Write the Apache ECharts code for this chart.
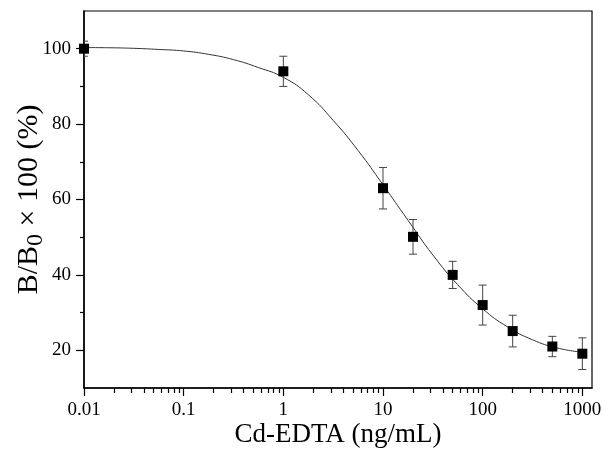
<!DOCTYPE html>
<html>
<head>
<meta charset="utf-8">
<script src="https://cdn.jsdelivr.net/npm/echarts@6/dist/echarts.min.js"></script>
<style>
  html, body { margin: 0; padding: 0; background: #fff; }
  #chart { width: 604px; height: 452px; }
</style>
</head>
<body>
<div id="chart"></div>
<script>
// measured points: concentration (ng/mL), B/B0 x 100 (%), error (+/-)
const concentration = [0.01, 1, 10, 20, 50, 100, 200, 500, 1000];
const ratio = [100, 94, 63, 50.1, 40, 32, 25.1, 21, 19.1];
const errors = [2, 4, 5.5, 4.6, 3.6, 5.3, 4.2, 2.7, 4.2];

// fitted curve, every quarter decade
const fitX = [0.01, 0.0178, 0.0316, 0.0562, 0.1, 0.178, 0.316, 0.562, 1, 1.78, 3.16, 5.62, 10, 17.8, 31.6, 56.2, 100, 178, 316, 562, 1000];
const fitY = [100.3, 100.25, 100.1, 99.8, 99.4, 98.5, 97.1, 95.0, 92.4, 87.8, 81.0, 73.0, 63.9, 54.5, 45.3, 37.4, 31.0, 26.2, 22.8, 20.6, 19.5];

// tick labels
const xTicks = [0.01, 0.1, 1, 10, 100, 1000];
const xTickLabels = ['0.01', '0.1', '1', '10', '100', '1000'];
const yTicks = [20, 40, 60, 80, 100];
const yMinorTicks = [30, 50, 70, 90];

// minor ticks of the log axis (2..9 in each decade)
const xMinorTicks = [];
for (let d = 0.01; d < 1000; d *= 10) {
  for (let k = 2; k <= 9; k++) xMinorTicks.push(+(d * k).toPrecision(3));
}

const font = '"Liberation Serif", "DejaVu Serif", serif';
const axisColor = '#000';

let myChart = echarts.init(document.getElementById('chart'));

const option = {
  animation: false,
  grid: {
    left: 84, top: 11, right: 12, bottom: 64,
    outerBoundsMode: 'none', containLabel: false,
    show: true, borderColor: axisColor, borderWidth: 1.2,
  },
  xAxis: [
    {
      type: 'log', logBase: 10, min: 0.01, max: 1250,
      name: 'Cd-EDTA (ng/mL)', nameLocation: 'middle', nameGap: 33,
      nameMoveOverlap: false,
      nameTextStyle: { fontFamily: font, fontSize: 27, color: '#000' },
      axisLine: { lineStyle: { color: axisColor, width: 1.5 } },
      axisTick: { customValues: xTicks, length: 8, lineStyle: { color: axisColor, width: 1.2 } },
      axisLabel: {
        customValues: xTicks, margin: 13, fontFamily: font, fontSize: 19, color: '#000',
        formatter: (v) => xTickLabels[xTicks.indexOf(v)] ?? String(v),
      },
      splitLine: { show: false },
      minorTick: { show: false },
    },
    {
      type: 'log', logBase: 10, min: 0.01, max: 1250, position: 'bottom',
      axisLine: { show: false },
      axisTick: { customValues: xMinorTicks, length: 5, lineStyle: { color: axisColor, width: 1.2 } },
      axisLabel: { show: false },
      splitLine: { show: false },
    },
  ],
  yAxis: [
    {
      type: 'value', min: 10, max: 110,
      name: '{a|B/B}{s|0}{a| × 100 (%)}', nameLocation: 'middle', nameGap: 36,
      nameMoveOverlap: false,
      nameTextStyle: {
        fontFamily: font, fontSize: 30, color: '#000',
        rich: {
          a: { fontFamily: font, fontSize: 30, color: '#000' },
          s: { fontFamily: font, fontSize: 24, color: '#000', padding: [14, 0, 0, 0] },
        },
      },
      axisLine: { show: true, lineStyle: { color: axisColor, width: 1.5 } },
      axisTick: { show: true, customValues: yTicks, length: 8, lineStyle: { color: axisColor, width: 1.2 } },
      axisLabel: { customValues: yTicks, margin: 13, fontFamily: font, fontSize: 19, color: '#000' },
      splitLine: { show: false },
    },
    {
      type: 'value', min: 10, max: 110, position: 'left',
      axisLine: { show: false },
      axisTick: { show: true, customValues: yMinorTicks, length: 4, lineStyle: { color: axisColor, width: 1.2 } },
      axisLabel: { show: false },
      splitLine: { show: false },
    },
  ],
  series: [
    {
      name: 'fit',
      type: 'line',
      data: fitX.map((x, i) => [x, fitY[i]]),
      smooth: 0.5,
      showSymbol: false,
      lineStyle: { color: '#333', width: 1 },
      z: 1,
    },
    {
      name: 'error',
      type: 'custom',
      clip: true,
      data: concentration.map((c, i) => [c, ratio[i], errors[i]]),
      renderItem: (params, api) => {
        const x = api.value(0);
        const y = api.value(1);
        const e = api.value(2);
        const top = api.coord([x, y + e]);
        const bot = api.coord([x, y - e]);
        const w = 4;
        const style = { stroke: '#444', lineWidth: 1 };
        return {
          type: 'group',
          children: [
            { type: 'line', shape: { x1: top[0], y1: top[1], x2: bot[0], y2: bot[1] }, style },
            { type: 'line', shape: { x1: top[0] - w, y1: top[1], x2: top[0] + w, y2: top[1] }, style },
            { type: 'line', shape: { x1: bot[0] - w, y1: bot[1], x2: bot[0] + w, y2: bot[1] }, style },
          ],
        };
      },
      z: 2,
    },
    {
      name: 'data',
      type: 'scatter',
      data: concentration.map((c, i) => [c, ratio[i]]),
      symbol: 'rect',
      symbolSize: 10,
      itemStyle: { color: '#000', opacity: 1 },
      clip: true,
      z: 3,
    },
  ],
};

myChart.setOption(option);
</script>
</body>
</html>
